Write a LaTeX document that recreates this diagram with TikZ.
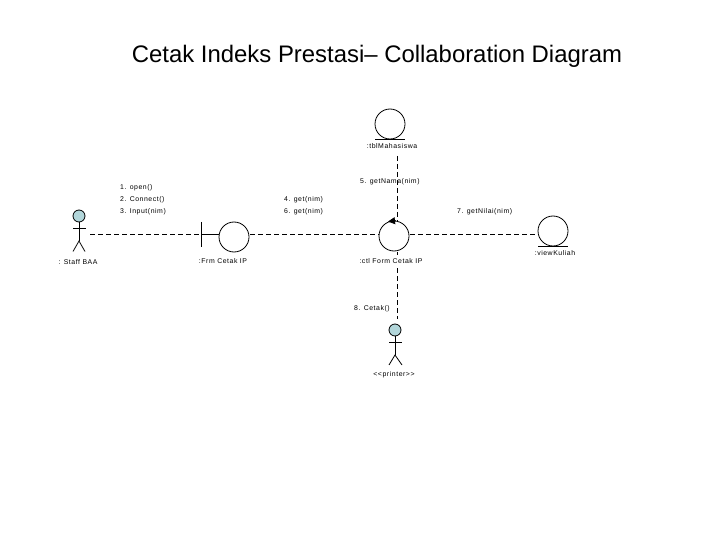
\documentclass[tikz,border=0pt]{standalone}
\usepackage{fontspec}
\setmainfont{Liberation Sans}
\newfontfamily\smallf[LetterSpace=8]{Liberation Sans}
\usetikzlibrary{arrows.meta}
\definecolor{headblue}{RGB}{178,214,218}
\tikzset{
  x=1pt,y=-1pt,
  obj/.style={circle,draw=black,line width=0.8pt,minimum size=30pt,inner sep=0pt,fill=white},
  head/.style={circle,draw=black,line width=0.8pt,minimum size=12pt,inner sep=0pt,fill=headblue},
  limb/.style={draw=black,line width=0.8pt},
  link/.style={draw=black,line width=0.8pt,dash pattern=on 5pt off 3pt},
  lbl/.style={font=\smallf\fontsize{6.9}{9}\selectfont,inner sep=0pt,text=black},
  msg/.style={lbl,align=left,anchor=west}
}
\begin{document}
\begin{tikzpicture}
\useasboundingbox (0,0) rectangle (720,540);
\fill[white] (0,0) rectangle (720,540);
\node[font=\fontsize{23.9}{28}\selectfont,anchor=center,inner sep=0pt] (title) at (377,56) {Cetak Indeks Prestasi– Collaboration Diagram};
% free ends
\coordinate (linkL) at (90,234);
\coordinate (linkR) at (535,234);
\coordinate (linkT) at (397,156);
\coordinate (linkB) at (397,319);
% connectors
\draw[link] (linkL) -- (linkR);
\draw[link] (linkT) -- (linkB);
% objects
\node[obj] (tbl) at (390,124) {};
\node[obj] (frm) at (234,237) {};
\node[obj] (ctl) at (394,236) {};
\node[obj] (view) at (553,231) {};
% entity bars
\draw[limb] ([xshift=-15pt]tbl.south) -- ([xshift=15pt]tbl.south);
\draw[limb] ([xshift=-15pt]view.south) -- ([xshift=15pt]view.south);
% boundary
\coordinate (barT) at (201,222);
\coordinate (barB) at (201,247);
\coordinate (barM) at (201,234);
\draw[limb] (barT) -- (barB);
\draw[limb] (barM) -- (frm.west |- barM);
% control arrowhead
\coordinate (arrA) at (388,221.5);
\draw[limb,-{Triangle[length=7pt,width=7pt]}] (ctl.north) ++(2pt,0) coordinate (arrS) (arrS) -- (arrA);
% actor 1
\node[head] (a1) at (79,216) {};
\coordinate (a1hip) at (79,241);
\draw[limb] (a1.south) -- (a1hip);
\draw[limb] (73,228) -- (86,228);
\draw[limb] (73,251.5) -- (a1hip) -- (85,251.5);
% actor 2
\node[head] (a2) at (395,330) {};
\coordinate (a2hip) at (395,355);
\draw[limb] (a2.south) -- (a2hip);
\draw[limb] (389,342) -- (402,342);
\draw[limb] (389,365) -- (a2hip) -- (402,365);
% labels
\node[lbl] (l1) at (78,262) {: Staff BAA};
\node[lbl] (l2) at (223,261) {:Frm Cetak IP};
\node[lbl,fill=white,inner ysep=3pt] (l3) at (391,261) {:ctl Form Cetak IP};
\node[lbl] (l4) at (392,146) {:tblMahasiswa};
\node[lbl] (l5) at (555,253) {:viewKuliah};
\node[lbl] (l6) at (394,375) {<<printer>>};
\node[msg] (m1) at (120,188) {1. open()};
\node[msg] (m2) at (120,200) {2. Connect()};
\node[msg] (m3) at (120,212) {3. Input(nim)};
\node[msg] (m4) at (284,200) {4. get(nim)};
\node[msg] (m5) at (284,212) {6. get(nim)};
\node[msg] (m6) at (360,182) {5. getNama(nim)};
\node[msg] (m7) at (457,212) {7. getNilai(nim)};
\node[msg] (m8) at (354,309) {8. Cetak()};
\end{tikzpicture}
\end{document}
